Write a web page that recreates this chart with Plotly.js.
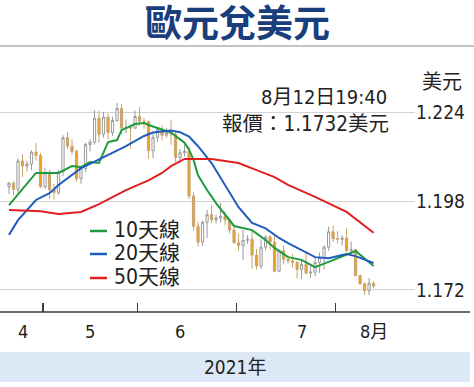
<!DOCTYPE html>
<html><head><meta charset="utf-8">
<script src="https://cdn.plot.ly/plotly-3.0.1.min.js"></script>
<style>html,body{margin:0;padding:0;background:#fff}#c{width:474px;height:387px}</style>
</head><body><div id="c"></div>
<script>
// trading days 2021-04-21 .. 2021-08-12
const dates = ["04-21","04-22","04-23","04-26","04-27","04-28","04-29","04-30",
"05-03","05-04","05-05","05-06","05-07","05-10","05-11","05-12","05-13","05-14","05-17","05-18","05-19","05-20","05-21","05-24","05-25","05-26","05-27","05-28","05-31",
"06-01","06-02","06-03","06-04","06-07","06-08","06-09","06-10","06-11","06-14","06-15","06-16","06-17","06-18","06-21","06-22","06-23","06-24","06-25","06-28","06-29","06-30",
"07-01","07-02","07-05","07-06","07-07","07-08","07-09","07-12","07-13","07-14","07-15","07-16","07-19","07-20","07-21","07-22","07-23","07-26","07-27","07-28","07-29","07-30",
"08-02","08-03","08-04","08-05","08-06","08-09","08-10","08-11","08-12"];
const openV = [1.2022,1.2032,1.2014,1.2097,1.2082,1.2088,1.2123,1.2113,
1.2022,1.2062,1.2013,1.2005,1.2065,1.2165,1.2140,1.2125,1.2045,1.2075,1.2145,1.2152,1.2222,1.2175,1.2225,1.2180,1.2215,1.2250,1.2193,1.2195,1.2193,
1.2227,1.2213,1.2212,1.2127,1.2166,1.2190,1.2172,1.2180,1.2174,1.2107,1.2121,1.2125,1.1995,1.1906,1.1860,1.1918,1.1940,1.1925,1.1930,1.1935,1.1925,1.1895,
1.1858,1.1850,1.1865,1.1868,1.1822,1.1790,1.1845,1.1875,1.1860,1.1775,1.1835,1.1810,1.1805,1.1800,1.1780,1.1795,1.1770,1.1772,1.1800,1.1815,1.1845,1.1890,
1.1870,1.1868,1.1872,1.1835,1.1838,1.1762,1.1738,1.1718,1.1740];
const highV = [1.2036,1.2038,1.2104,1.2116,1.2098,1.2128,1.2150,1.2120,
1.2076,1.2072,1.2030,1.2070,1.2172,1.2182,1.2160,1.2130,1.2080,1.2150,1.2160,1.2245,1.2243,1.2240,1.2236,1.2226,1.2266,1.2262,1.2218,1.2200,1.2244,
1.2254,1.2223,1.2215,1.2184,1.2196,1.2201,1.2194,1.2218,1.2182,1.2132,1.2145,1.2140,1.2005,1.1919,1.1922,1.1954,1.1970,1.1940,1.1975,1.1950,1.1930,1.1905,
1.1885,1.1895,1.1880,1.1895,1.1840,1.1868,1.1880,1.1880,1.1880,1.1838,1.1850,1.1820,1.1825,1.1805,1.1805,1.1832,1.1790,1.1815,1.1830,1.1850,1.1905,1.1908,
1.1892,1.1880,1.1900,1.1862,1.1840,1.1765,1.1742,1.1755,1.1745];
const lowV = [1.2000,1.1996,1.2005,1.2050,1.2066,1.2070,1.2098,1.2018,
1.2015,1.1986,1.1984,1.1998,1.2052,1.2132,1.2115,1.2036,1.2030,1.2065,1.2125,1.2145,1.2150,1.2165,1.2160,1.2170,1.2212,1.2175,1.2178,1.2133,1.2190,
1.2200,1.2190,1.2103,1.2105,1.2153,1.2157,1.2165,1.2144,1.2093,1.2092,1.2110,1.1985,1.1893,1.1847,1.1848,1.1872,1.1915,1.1914,1.1917,1.1910,1.1885,1.1855,
1.1835,1.1807,1.1855,1.1782,1.1780,1.1782,1.1835,1.1837,1.1772,1.1772,1.1795,1.1797,1.1785,1.1755,1.1752,1.1765,1.1755,1.1760,1.1770,1.1780,1.1835,1.1860,
1.1855,1.1850,1.1830,1.1825,1.1760,1.1735,1.1705,1.1705,1.1725];
const closeV = [1.2032,1.2014,1.2097,1.2082,1.2088,1.2123,1.2113,1.2022,
1.2062,1.2013,1.2005,1.2065,1.2165,1.2140,1.2125,1.2045,1.2075,1.2145,1.2152,1.2222,1.2175,1.2225,1.2180,1.2215,1.2250,1.2193,1.2195,1.2193,1.2227,
1.2213,1.2212,1.2127,1.2166,1.2190,1.2172,1.2180,1.2174,1.2107,1.2121,1.2125,1.1995,1.1906,1.1860,1.1918,1.1940,1.1925,1.1930,1.1935,1.1925,1.1895,1.1858,
1.1850,1.1865,1.1868,1.1822,1.1790,1.1845,1.1875,1.1860,1.1775,1.1835,1.1810,1.1805,1.1800,1.1780,1.1795,1.1770,1.1772,1.1800,1.1815,1.1845,1.1890,1.1870,
1.1868,1.1872,1.1835,1.1838,1.1762,1.1738,1.1718,1.1740,1.1732];

// moving averages
const ma10Dates = ["04-21","04-29","05-06","05-11","05-13","05-17","05-19","05-21","05-25","05-26","05-31","06-02","06-03","06-08","06-10","06-14","06-15","06-16","06-17","06-18","06-22","06-24","06-29","06-30","07-06","07-09","07-13","07-16","07-21","07-26","07-29","08-04","08-06","08-12"];
const ma10Vals  = [1.1968,1.2062,1.2062,1.2082,1.2079,1.2094,1.2091,1.2152,1.2158,1.2187,1.2205,1.2208,1.2202,1.2190,1.2180,1.2160,1.2150,1.2130,1.2100,1.2055,1.2012,1.1974,1.1924,1.1907,1.1895,1.1866,1.1843,1.1816,1.1808,1.1787,1.1802,1.1822,1.1834,1.1790];
const ma20Dates = ["04-21","04-23","04-29","05-04","05-06","05-11","05-13","05-18","05-21","05-27","06-02","06-04","06-10","06-14","06-16","06-18","06-23","06-28","07-01","07-06","07-09","07-14","07-16","07-26","07-29","08-04","08-06","08-12"];
const ma20Vals  = [1.1881,1.1924,1.1983,1.2003,1.2027,1.2056,1.2076,1.2095,1.2115,1.2140,1.2170,1.2180,1.2186,1.2181,1.2168,1.2140,1.2091,1.2027,1.1962,1.1916,1.1900,1.1872,1.1857,1.1816,1.1813,1.1825,1.1819,1.1799];
const ma50Dates = ["04-21","04-30","05-06","05-13","05-19","05-27","06-03","06-08","06-10","06-15","06-23","07-01","07-08","07-13","07-16","07-26","08-04","08-12"];
const ma50Vals  = [1.1954,1.1950,1.1942,1.1948,1.1971,1.2012,1.2040,1.2062,1.2082,1.2103,1.2103,1.2091,1.2065,1.2050,1.2027,1.1992,1.1948,1.1887];

const yTicks = [1.172, 1.198, 1.224];
const yTickText = ["1.172", "1.198", "1.224"];
const monthLabels = ["4", "5", "6", "7", "8月"];
const monthLabelAt = ["04-26", "05-17", "06-14", "07-21", "08-12"];
const monthStarts = ["05-03", "06-01", "07-01", "08-02"];
const seriesNames = ["10天線", "20天線", "50天線"];
const seriesColors = ["#1e9b3c", "#1f5cbf", "#e0201e"];

// page geometry
const W = 474, H = 387, ML = 0, MR = 59, MT = 85, MB = 75;
const PW = W - ML - MR, PH = H - MT - MB;
const px = p => (p - ML) / PW;
const py = p => (H - MB - p) / PH;
const NARROW = '"Liberation Sans Narrow","Arial Narrow","DejaVu Sans Condensed","Noto Sans CJK TC",sans-serif';
const CJK = '"Noto Sans CJK TC","Noto Sans CJK SC",sans-serif';

const idx = d => dates.indexOf(d);
const xs = dates.map((d, i) => i);

const traces = [{
  type: 'candlestick', x: xs, open: openV, high: highV, low: lowV, close: closeV,
  increasing: {line: {color: '#9a9a9a', width: 1}, fillcolor: '#ffffff'},
  decreasing: {line: {color: '#c9a46a', width: 1}, fillcolor: '#f0a028'},
  whiskerwidth: 0, showlegend: false, hoverinfo: 'skip'
}];
[[ma10Dates, ma10Vals], [ma20Dates, ma20Vals], [ma50Dates, ma50Vals]].forEach((s, k) => {
  traces.push({type: 'scatter', mode: 'lines', x: s[0].map(idx), y: s[1],
    line: {color: seriesColors[k], width: 2}, showlegend: false, hoverinfo: 'skip'});
});

const ann = [];
const shapes = [];
const txt = (text, x, y, size, opts) => Object.assign({text, xref: 'paper', yref: 'paper', x: px(x), y: py(y),
  xanchor: 'center', yanchor: 'middle', showarrow: false, font: {family: NARROW, size, color: '#222'}}, opts || {});
// title
ann.push(txt('<b>歐元兌美元</b>', 237, 21, 37, {font: {family: CJK, size: 37, color: '#1a3d7c'}}));
shapes.push({type: 'line', xref: 'paper', yref: 'paper', x0: px(0), x1: px(474), y0: py(46), y1: py(46),
  line: {color: '#b0b0b0', width: 1.5}});
// header notes
ann.push(txt('8月12日19:40', 389, 97, 20, {xanchor: 'right'}));
ann.push(txt('報價：1.1732美元', 391, 124, 20.5, {xanchor: 'right'}));
ann.push(txt('美元', 442, 82, 20));
// month labels
monthLabels.forEach((m, k) => ann.push({text: m, xref: 'x', yref: 'paper', x: idx(monthLabelAt[k]), y: py(331),
  xanchor: 'center', yanchor: 'middle', showarrow: false, font: {family: NARROW, size: 18, color: '#222'}}));
// year band
shapes.push({type: 'rect', xref: 'paper', yref: 'paper', x0: px(0), x1: px(470), y0: py(382), y1: py(352),
  fillcolor: '#dce8f5', line: {width: 0}, layer: 'below'});
ann.push(txt('2021年', 235, 367, 19));
// axis line
shapes.push({type: 'line', xref: 'paper', yref: 'paper', x0: px(0), x1: px(470), y0: 0, y1: 0,
  line: {color: '#3a3a3a', width: 1.5}});
// legend
const legY = [230, 253, 277];
seriesNames.forEach((n, k) => {
  shapes.push({type: 'line', xref: 'paper', yref: 'paper', x0: px(90), x1: px(107), y0: py(legY[k] + 1), y1: py(legY[k] + 1),
    line: {color: seriesColors[k], width: 2.5}});
  ann.push(txt(n, 112, legY[k], 21, {xanchor: 'left'}));
});

const layout = {
  width: W, height: H, margin: {l: ML, r: MR, t: MT, b: MB, pad: 0},
  paper_bgcolor: '#fff', plot_bgcolor: '#fff', showlegend: false,
  xaxis: {range: [-2, 90.2], rangeslider: {visible: false}, showgrid: false, zeroline: false, showline: false,
    tickmode: 'array', tickvals: monthStarts.map(d => idx(d) - 0.5), ticktext: monthStarts.map(() => ''),
    ticks: 'inside', ticklen: 9, tickwidth: 1.5, tickcolor: '#3a3a3a', showticklabels: false, fixedrange: true},
  yaxis: {range: [1.16557, 1.23189], side: 'right', tickmode: 'array', tickvals: yTicks, ticktext: yTickText,
    showgrid: true, gridcolor: '#d2d2d2', gridwidth: 1, zeroline: false, showline: false, ticks: '',
    tickfont: {family: NARROW, size: 19, color: '#222'}, fixedrange: true},
  annotations: ann, shapes: shapes
};
Plotly.newPlot('c', traces, layout, {staticPlot: true, displayModeBar: false});
</script></body></html>
